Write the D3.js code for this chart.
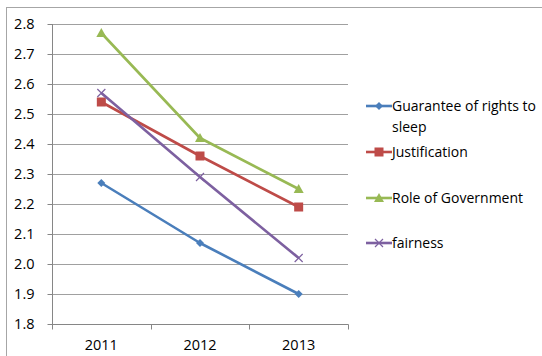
<!DOCTYPE html>
<html><head><meta charset="utf-8">
<script src="https://cdn.jsdelivr.net/npm/d3@7"></script>
<style>body{margin:0;background:#fff}svg{display:block}text{font-family:"Open Sans","Liberation Sans",sans-serif;fill:#000}</style>
</head><body><svg id="c" width="542" height="356"></svg>
<script>
const years = ["2011","2012","2013"];
const seriesNames = ["Guarantee of rights to sleep","Justification","Role of Government","fairness"];
const guarantee = [2.27, 2.07, 1.90];
const justification = [2.54, 2.36, 2.19];
const roleOfGov = [2.77, 2.42, 2.25];
const fairness = [2.57, 2.29, 2.02];
const yTicks = [1.8,1.9,2.0,2.1,2.2,2.3,2.4,2.5,2.6,2.7,2.8];

const colors = ["#4a7ebb","#be4b48","#98b954","#7d60a0"];
const markers = ["diamond","square","triangle","x"];
const data = [guarantee, justification, roleOfGov, fairness];

const svg = d3.select("#c");
svg.append("rect").attr("x",6.5).attr("y",7.5).attr("width",600).attr("height",400)
  .attr("fill","none").attr("stroke","#a6a6a6");

const L=52, R=348, T=24, B=324;
const x = d3.scaleBand().domain(years).range([L,R]);
const y = d3.scaleLinear().domain([1.8,2.8]).range([B,T]);

// gridlines
svg.append("g").selectAll("line").data(yTicks.slice(1)).join("line")
  .attr("x1",L).attr("x2",R).attr("y1",d=>Math.round(y(d))+0.5).attr("y2",d=>Math.round(y(d))+0.5)
  .attr("stroke","#a0a0a0");

// y axis
const ya = svg.append("g").attr("transform",`translate(${L+0.5},0)`)
  .call(d3.axisLeft(y).tickValues(yTicks).tickFormat(d3.format(".1f")).tickSize(5).tickPadding(13));
ya.select(".domain").attr("stroke","#868686").attr("d",`M0,${T}V${B+0.5}`);
ya.selectAll(".tick line").attr("stroke","#868686");
ya.selectAll(".tick").attr("transform",d=>`translate(0,${Math.round(y(d))+0.5})`);
ya.selectAll("text").style("font-size","14.5px").attr("fill","#000");

// x axis
const xa = svg.append("g").attr("transform",`translate(0,${B+0.5})`);
xa.append("line").attr("x1",L).attr("x2",R+0.5).attr("stroke","#868686");
const bounds = years.map(d=>x(d)).concat([R]);
xa.selectAll("line.t").data(bounds).join("line").attr("class","t")
  .attr("x1",d=>Math.round(d)+0.5).attr("x2",d=>Math.round(d)+0.5).attr("y1",0).attr("y2",5).attr("stroke","#868686");
xa.selectAll("text").data(years).join("text")
  .attr("x",d=>x(d)+x.bandwidth()/2).attr("y",25).attr("text-anchor","middle")
  .style("font-size","14.5px").text(d=>d);

function drawMarker(g, type, cx, cy, color){
  if(type==="diamond"){
    g.append("path").attr("d",`M${cx},${cy-4}L${cx+4},${cy}L${cx},${cy+4}L${cx-4},${cy}Z`).attr("fill",color);
  } else if(type==="square"){
    g.append("rect").attr("x",cx-4.5).attr("y",cy-4.5).attr("width",9).attr("height",9).attr("fill",color);
  } else if(type==="triangle"){
    g.append("path").attr("d",`M${cx},${cy-5}L${cx+5},${cy+4}L${cx-5},${cy+4}Z`).attr("fill",color);
  } else {
    g.append("path").attr("d",`M${cx-4},${cy-4}L${cx+4},${cy+4}M${cx+4},${cy-4}L${cx-4},${cy+4}`)
      .attr("stroke",color).attr("stroke-width",1.2).attr("fill","none");
  }
}

const line = d3.line().x((d,i)=>x(years[i])+x.bandwidth()/2).y(d=>y(d));
data.forEach((vals,si)=>{
  const g = svg.append("g");
  g.append("path").attr("d",line(vals)).attr("fill","none").attr("stroke",colors[si]).attr("stroke-width",2.6).attr("stroke-linejoin","round");
  vals.forEach((v,i)=>drawMarker(g, markers[si], x(years[i])+x.bandwidth()/2, y(v), colors[si]));
});

// legend
const legY = [106, 152, 198, 243];
const lg = svg.append("g");
seriesNames.forEach((n,i)=>{
  const cy = legY[i];
  lg.append("line").attr("x1",366).attr("x2",392).attr("y1",cy).attr("y2",cy).attr("stroke",colors[i]).attr("stroke-width",2.6);
  drawMarker(lg, markers[i], 379, cy, colors[i]);
  const t = lg.append("text").attr("x",392).attr("y",cy+5).style("font-size","14px");
  if(i===0){
    t.text("Guarantee of rights to");
    lg.append("text").attr("x",392).attr("y",cy+26).style("font-size","14px").text("sleep");
  } else t.text(n);
});
</script></body></html>
